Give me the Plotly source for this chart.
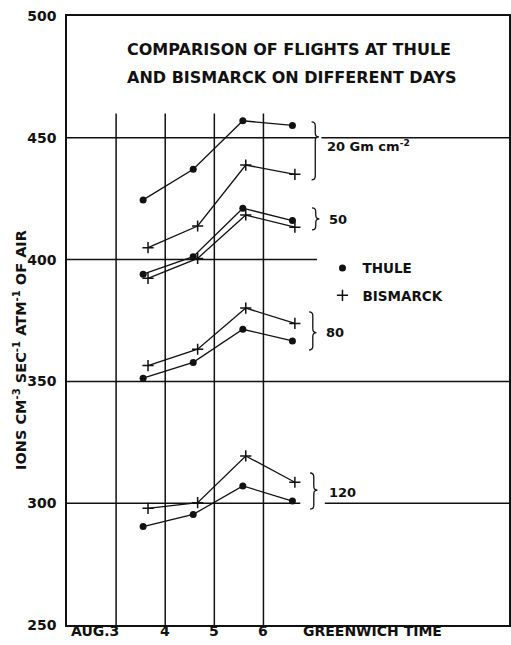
import plotly.graph_objects as go

# ---- data ----
thule_days = [3.55, 4.57, 5.58, 6.59]
bismarck_days = [3.65, 4.66, 5.64, 6.64]
depths = ["20", "50", "80", "120"]
thule_20 = [424.5, 437.1, 457.0, 455.1]
thule_50 = [394.0, 401.2, 421.1, 416.0]
thule_80 = [351.3, 357.8, 371.4, 366.6]
thule_120 = [290.4, 295.4, 307.1, 300.9]
bismarck_20 = [404.9, 413.8, 438.8, 435.0]
bismarck_50 = [392.3, 400.5, 418.3, 413.3]
bismarck_80 = [356.5, 363.2, 380.1, 373.8]
bismarck_120 = [297.9, 300.2, 319.4, 308.6]
y_ticks = [250, 300, 350, 400, 450, 500]
day_ticks = [3, 4, 5, 6]
day_labels = ["AUG.3", "4", "5", "6"]
depth_labels = ["20 Gm cm<sup>-2</sup>", "50", "80", "120"]

thule = [thule_20, thule_50, thule_80, thule_120]
bismarck = [bismarck_20, bismarck_50, bismarck_80, bismarck_120]

FONT = "DejaVu Sans"
BLACK = "#111111"

fig = go.Figure()

for i, d in enumerate(depths):
    fig.add_trace(go.Scatter(
        x=thule_days, y=thule[i], mode="lines+markers",
        line=dict(color=BLACK, width=1.3),
        marker=dict(symbol="circle", size=7, color=BLACK),
        showlegend=False, name="THULE " + d))
    fig.add_trace(go.Scatter(
        x=bismarck_days, y=bismarck[i], mode="lines+markers",
        line=dict(color=BLACK, width=1.3),
        marker=dict(symbol="cross-thin", size=8, color=BLACK,
                    line=dict(color=BLACK, width=1.5)),
        showlegend=False, name="BISMARCK " + d))

# legend-only entries
fig.add_trace(go.Scatter(x=[None], y=[None], mode="markers", name="THULE",
                         marker=dict(symbol="circle", size=7, color=BLACK),
                         legend="legend"))
fig.add_trace(go.Scatter(x=[None], y=[None], mode="markers", name="BISMARCK",
                         marker=dict(symbol="cross-thin", size=8, color=BLACK,
                                     line=dict(color=BLACK, width=1.5)),
                         legend="legend2"))

shapes = []
LW = 1.5
# horizontal rules (segments broken where braces sit)
h_segments = [
    (450, 2, 7.07), (450, 7.18, 11),
    (400, 2, 7.09),
    (350, 2, 11),
    (300, 2, 6.75), (300, 7.25, 11),
]
for y, x0, x1 in h_segments:
    shapes.append(dict(type="line", xref="x", yref="y", x0=x0, x1=x1, y0=y, y1=y,
                       line=dict(color=BLACK, width=LW), layer="below"))
for d in day_ticks:
    shapes.append(dict(type="line", xref="x", yref="y", x0=d, x1=d, y0=250, y1=460,
                       line=dict(color=BLACK, width=LW), layer="below"))


def brace(x0, w, yt, ytip, yb, h=1.6):
    xm = x0 + w * 0.5
    x1 = x0 + w
    return (f"M {x0},{yt} Q {xm},{yt} {xm},{yt - h} "
            f"L {xm},{ytip + h} Q {xm},{ytip} {x1},{ytip} "
            f"Q {xm},{ytip} {xm},{ytip - h} "
            f"L {xm},{yb + h} Q {xm},{yb} {x0},{yb}")


braces = [(6.98, 456.5, 450.4, 432.7),
          (6.99, 421.2, 416.7, 412.2),
          (6.93, 378.5, 370.0, 362.9),
          (6.95, 312.4, 305.4, 297.6)]
for x0, yt, ytip, yb in braces:
    shapes.append(dict(type="path", xref="x", yref="y",
                       path=brace(x0, 0.15, yt, ytip, yb),
                       line=dict(color=BLACK, width=1.3)))

ann = []
tfont = dict(family=FONT, size=16, color=BLACK, weight="bold")
ann.append(dict(text="COMPARISON OF FLIGHTS AT THULE", xref="paper", yref="paper",
                x=0.1306, y=0.9458, xanchor="left", yanchor="middle",
                showarrow=False, font=tfont))
ann.append(dict(text="AND BISMARCK ON DIFFERENT DAYS", xref="paper", yref="paper",
                x=0.1306, y=0.8998, xanchor="left", yanchor="middle",
                showarrow=False, font=tfont))

lfont = dict(family=FONT, size=13, color=BLACK, weight="bold")
xfont = dict(family=FONT, size=14, color=BLACK, weight="bold")
label_pos = [(7.26, 446.5), (7.30, 416.6), (7.24, 369.9), (7.30, 304.5)]
for (x, y), t in zip(label_pos, depth_labels):
    ann.append(dict(text=t, xref="x", yref="y", x=x, y=y, xanchor="left",
                    yanchor="middle", showarrow=False, font=lfont))

for d, t in zip(day_ticks, day_labels):
    ann.append(dict(text=t, xref="x", yref="paper", x=d, y=-0.0099,
                    xanchor="right" if t.startswith("AUG") else "center",
                    xshift=5 if t.startswith("AUG") else 0,
                    yanchor="middle", showarrow=False, font=xfont))
ann.append(dict(text="GREENWICH TIME", xref="x", yref="paper", x=6.77, y=-0.0099,
                xanchor="left", yanchor="middle", showarrow=False, font=xfont))

ann.append(dict(text="IONS CM<sup>-3</sup> SEC<sup>-1</sup> ATM<sup>-1</sup> OF AIR",
                xref="paper", yref="y", x=-0.106, y=363, textangle=-90,
                xanchor="center", yanchor="middle", showarrow=False,
                font=dict(family=FONT, size=14.5, color=BLACK, weight="bold")))

fig.update_layout(
    width=511, height=645,
    margin=dict(l=67, r=0, t=16, b=20),
    paper_bgcolor="white", plot_bgcolor="white",
    shapes=shapes, annotations=ann,
    xaxis=dict(range=[2, 11], showgrid=False, zeroline=False, showticklabels=False,
               ticks="", showline=True, linecolor=BLACK, linewidth=LW, mirror=True),
    yaxis=dict(range=[250, 500], showgrid=False, zeroline=False, tickvals=y_ticks,
               ticks="", showline=True, linecolor=BLACK, linewidth=LW, mirror=True,
               ticklabelstandoff=6,
               tickfont=dict(family=FONT, size=14, color=BLACK, weight="bold")),
    legend=dict(x=0.578, y=0.586, xanchor="left", yanchor="middle",
                bgcolor="rgba(0,0,0,0)", font=dict(family=FONT, size=13.5, color=BLACK, weight="bold")),
    legend2=dict(x=0.578, y=0.541, xanchor="left", yanchor="middle",
                 bgcolor="rgba(0,0,0,0)", font=dict(family=FONT, size=13.5, color=BLACK, weight="bold")),
)

fig.write_html(
    "out.html",
    config={"displayModeBar": False},
    post_script="document.documentElement.style.margin='0';document.body.style.margin='0';"
                "document.documentElement.style.overflow='hidden';document.body.style.overflow='hidden';",
)
